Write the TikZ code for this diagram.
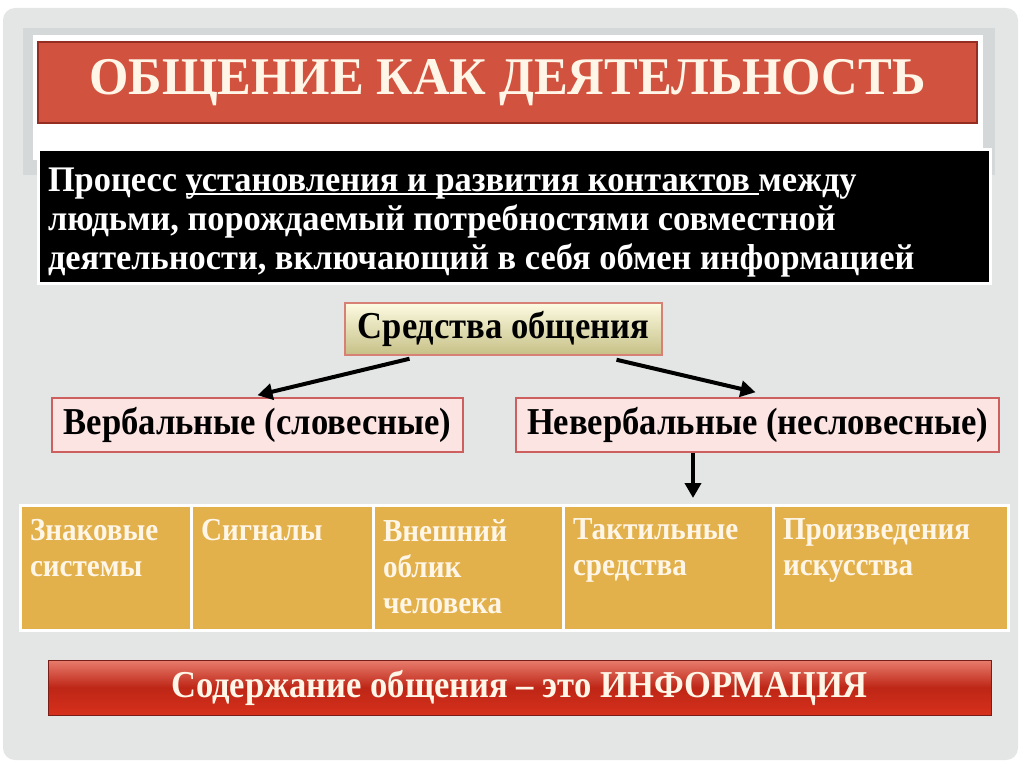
\documentclass[tikz,border=0pt]{standalone}
\usepackage{fontspec}
\setmainfont{Liberation Serif}[FakeStretch=0.91]
\newfontfamily\titlefont{Liberation Serif}[FakeStretch=0.955]
\usetikzlibrary{arrows.meta, positioning}

\newcommand{\ulthick}[1]{\setbox0\hbox{#1}\rlap{\rule[-4pt]{\wd0}{2pt}}\box0}
\newcommand{\lowered}[1]{\raisebox{-4pt}{#1}}

\definecolor{slidegray}{RGB}{228,229,229}
\definecolor{bandgray}{RGB}{212,216,216}
\definecolor{titlered}{RGB}{209,82,62}
\definecolor{titleedge}{RGB}{150,45,35}
\definecolor{cream}{RGB}{255,246,232}
\definecolor{meanstop}{RGB}{253,251,226}
\definecolor{meansbottom}{RGB}{198,192,134}
\definecolor{meansedge}{RGB}{214,128,118}
\definecolor{kindfill}{RGB}{252,228,226}
\definecolor{kindedge}{RGB}{205,95,95}
\definecolor{tablegold}{RGB}{226,177,76}
\definecolor{infotop}{RGB}{232,125,110}
\definecolor{infomid}{RGB}{190,38,22}
\definecolor{infobottom}{RGB}{214,48,28}
\definecolor{infoedge}{RGB}{120,30,25}

\begin{document}
\begin{tikzpicture}[
    x=1pt, y=-1pt,
    titlebar/.style={rectangle, fill=titlered, draw=titleedge, line width=1.5pt,
                     text=cream, font=\titlefont\fontsize{53}{60}\selectfont\bfseries,
                     minimum width=939pt, minimum height=81pt},
    definition/.style={rectangle, fill=black, draw=white, line width=3pt,
                       text=white, font=\titlefont\fontsize{36}{39}\selectfont\bfseries,
                       inner xsep=10pt, inner ysep=0pt, minimum height=133pt},
    means/.style={rectangle, top color=meanstop, bottom color=meansbottom,
                  draw=meansedge, line width=1.5pt,
                  font=\fontsize{38}{40}\selectfont\bfseries,
                  minimum width=317pt, minimum height=52pt},
    kind/.style={rectangle, fill=kindfill, draw=kindedge, line width=1.5pt,
                 font=\fontsize{38}{40}\selectfont\bfseries, minimum height=54pt},
    cell/.style={rectangle, fill=tablegold, draw=white, line width=3pt,
                 outer sep=0pt, anchor=north west, inner xsep=10pt, inner ysep=8pt,
                 text=cream, font=\fontsize{32}{36}\selectfont\bfseries,
                 minimum height=125pt},
    infobar/.style={rectangle, top color=infotop, bottom color=infobottom,
                    middle color=infomid, draw=infoedge, line width=1pt,
                    text=cream, font=\fontsize{38}{40}\selectfont\bfseries,
                    minimum width=943pt, minimum height=55pt},
    arrowline/.style={-{Triangle[length=15pt, width=16pt]}, line width=4pt},
]

\useasboundingbox (0,0) rectangle (1024,767);

%% --- slide background ---
\fill[slidegray, rounded corners=12pt] (3,8) rectangle (1018,760);
\fill[bandgray] (23,28) rectangle (995,175);
\fill[white] (33,35) rectangle (983,160);

%% --- title ---
\node[titlebar] (title) at (507.5,82.5) {\lowered{ОБЩЕНИЕ КАК ДЕЯТЕЛЬНОСТЬ}};

%% --- definition ---
\node[definition] (def) at (514,216.5)
    {\parbox[c][133pt][c]{932pt}{\raggedright\vspace*{12pt}%
     Процесс \ulthick{установления и развития контактов }между\\
     людьми, порождаемый потребностями совместной\\
     деятельности, включающий в себя обмен информацией}};

%% --- means of communication ---
\node[means] (means) at (503.5,329) {\lowered{Средства общения}};
\node[kind, minimum width=411pt] (verbal) at (257.5,425) {\lowered{Вербальные (словесные)}};
\node[kind, minimum width=483pt] (nonverbal) at (757.5,425) {\lowered{Невербальные (несловесные)}};

\draw[arrowline] ([xshift=-94pt, yshift=-3pt]means.south) -- ([yshift=2pt]verbal.north);
\draw[arrowline] ([xshift=113pt, yshift=-4pt]means.south) -- ([xshift=-2pt, yshift=5pt]nonverbal.north);

%% --- table of non-verbal means ---
\node[cell, minimum width=171pt] (signs) at (20,505)
    {\parbox[c][105pt][t]{151pt}{\raggedright\vspace*{4pt}Знаковые\\системы}};
\node[cell, minimum width=182pt, right=0pt of signs.north east, anchor=north west] (signals)
    {\parbox[c][105pt][t]{162pt}{\raggedright\vspace*{4pt}Сигналы}};
\node[cell, minimum width=190pt, right=0pt of signals.north east, anchor=north west] (look)
    {\parbox[c][105pt][t]{170pt}{\raggedright\vspace*{4pt}Внешний\\облик\\человека}};
\node[cell, minimum width=210pt, right=0pt of look.north east, anchor=north west] (touch)
    {\parbox[c][105pt][t]{190pt}{\raggedright\vspace*{4pt}Тактильные\\средства}};
\node[cell, minimum width=235pt, right=0pt of touch.north east, anchor=north west] (art)
    {\parbox[c][105pt][t]{215pt}{\raggedright\vspace*{4pt}Произведения\\искусства}};

\draw[arrowline] ([xshift=-64.5pt]nonverbal.south) -- ([xshift=-64.5pt, yshift=7pt]touch.north west -| nonverbal.south);

%% --- content ---
\node[infobar] (info) at (519.5,687.5) {\raisebox{-2pt}{Содержание общения -- это ИНФОРМАЦИЯ}};

\end{tikzpicture}
\end{document}
